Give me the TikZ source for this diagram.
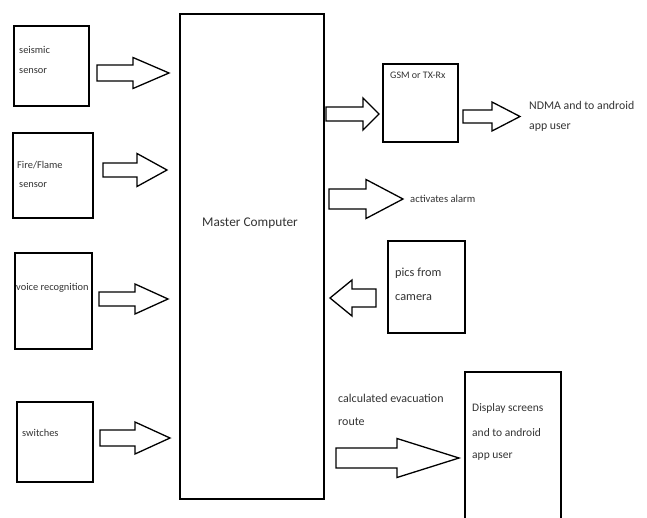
\documentclass[tikz,border=0pt]{standalone}
\usepackage{fontspec}
\setmainfont{Carlito}
\newcommand{\barrowshape}[6]{% tail, tip, cy, halfbody, halfhead, headbase
  \draw[blockarrow] (#1,#3-#4) -- (#6,#3-#4) -- (#6,#3-#5) -- (#2,#3) -- (#6,#3+#5) -- (#6,#3+#4) -- (#1,#3+#4) -- cycle;}
\begin{document}
\begin{tikzpicture}[x=1pt,y=-1pt,
  box/.style={draw=black, line width=1.3pt, inner sep=0pt},
  blockarrow/.style={draw=black, line width=1.3pt, line join=miter, fill=white},
  lbl/.style={inner sep=0pt, anchor=west, text=black!80, font=\fontsize{10.4}{10.4}\selectfont},
  big/.style={font=\fontsize{11.8}{11.8}\selectfont}]
\useasboundingbox (0,0) rectangle (647,517);
\fill[white] (0,0) rectangle (647,517);
% boxes
\draw[box] (14,26) rectangle (89,106);
\node[draw=none] (seis) at (51.5,66) {};
\draw[box] (13,133) rectangle (93,218);
\node[draw=none] (fire) at (53,175.5) {};
\draw[box] (15,253) rectangle (92,349);
\node[draw=none] (voice) at (53.5,301) {};
\draw[box] (17,402) rectangle (93,482);
\node[draw=none] (sw) at (55,442) {};
\draw[line width=1.6pt] (180,14) rectangle (324,499);
\node[inner sep=0pt, text=black!80, font=\fontsize{13.3}{13.3}\selectfont] (master) at (250,223) {Master Computer};
\draw[box] (383,64) rectangle (458,142);
\node[draw=none] (gsm) at (420.5,103) {};
\draw[box] (388,241) rectangle (465,333);
\node[draw=none] (cam) at (426.5,287) {};
\draw[box] (465,530) -- (465,372) -- (561,372) -- (561,530);
\node[draw=none] (disp) at (513,445) {};
% labels
\node[lbl] (t1) at (19,50) {seismic};
\node[lbl] (t2) at (19,71) {sensor};
\node[lbl] (t3) at (17,165) {Fire/Flame};
\node[lbl] (t4) at (19,185) {sensor};
\node[lbl] (t5) at (16,288) {voice recognition};
\node[lbl] (t6) at (22,433) {switches};
\node[lbl, font=\fontsize{10}{10}\selectfont] (t7) at (390,75) {GSM or TX-Rx};
\node[lbl, font=\fontsize{10.6}{10.6}\selectfont] (t8) at (410,199) {activates alarm};
\node[lbl, big] (t9) at (529,105) {NDMA and to android};
\node[lbl, big] (t10) at (529,128) {app user};
\node[lbl, font=\fontsize{12.3}{12.3}\selectfont] (t11) at (395,273) {pics from};
\node[lbl, font=\fontsize{12.3}{12.3}\selectfont] (t12) at (395,298) {camera};
\node[lbl, font=\fontsize{12}{12}\selectfont] (t13) at (338,398) {calculated evacuation};
\node[lbl, font=\fontsize{12}{12}\selectfont] (t14) at (338,422) {route};
\node[lbl, font=\fontsize{11.5}{11.5}\selectfont] (t15) at (472,408) {Display screens};
\node[lbl, font=\fontsize{11.5}{11.5}\selectfont] (t16) at (472,433) {and to android};
\node[lbl, font=\fontsize{11.5}{11.5}\selectfont] (t17) at (472,457) {app user};
% block arrows
\barrowshape{97}{169}{73}{8}{15.5}{133}
\barrowshape{103}{167}{170}{7}{16.5}{137}
\barrowshape{99}{168}{299}{7}{15}{135}
\barrowshape{100}{170}{438}{8}{16}{135}
\barrowshape{326}{379}{114}{7}{16}{363}
\barrowshape{463}{520}{116.5}{6.5}{14.5}{492}
\barrowshape{329}{403}{199}{10}{19.5}{366}
\barrowshape{376}{330}{298}{9}{18}{352}
\barrowshape{336}{459}{458}{10}{19.5}{397}
\end{tikzpicture}
\end{document}
